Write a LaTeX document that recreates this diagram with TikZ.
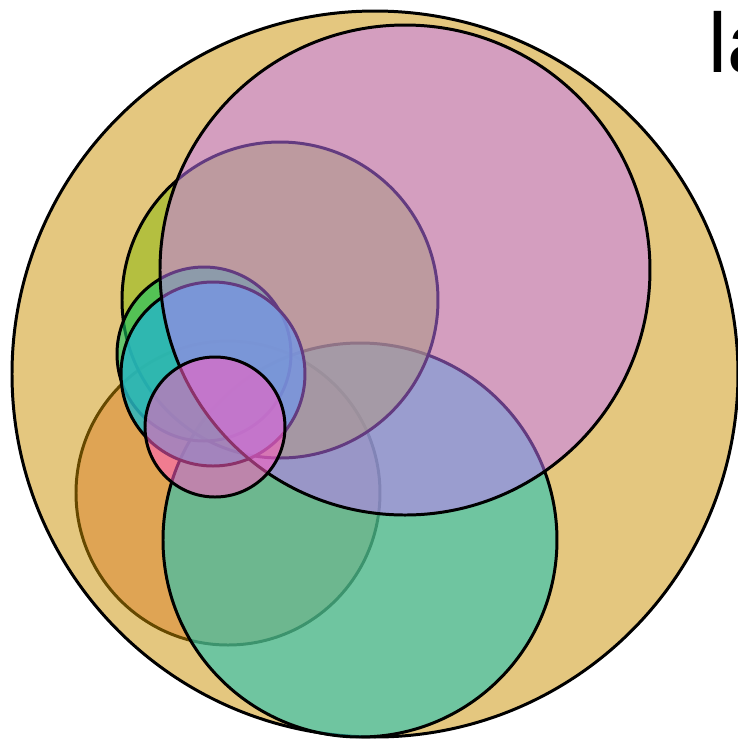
\documentclass[tikz,border=0pt]{standalone}
\usepackage{fontspec}
\setmainfont{Liberation Sans}
\usepackage{tikz}
\definecolor{outertan}{RGB}{203,145,0}
\definecolor{bigorange}{RGB}{235,115,85}
\definecolor{bigsea}{RGB}{34,197,183}
\definecolor{bigolive}{RGB}{149,187,23}
\definecolor{smallleaf}{RGB}{21,197,99}
\definecolor{smallsky}{RGB}{41,182,192}
\definecolor{bigorchid}{RGB}{198,118,255}
\definecolor{smallrose}{RGB}{255,92,194}

\begin{document}
\begin{tikzpicture}[x=0.01cm, y=-0.01cm,
    bub/.style={draw=black, line width=0.85pt},
    lbl/.style={anchor=base west, inner sep=0pt, font=\fontsize{24}{28}\selectfont}
  ]
  \useasboundingbox (0,0) rectangle (738,744);
  \fill[white] (0,0) rectangle (738,744);
  % back to front
  \draw[bub, fill=bigorange, fill opacity=0.5] (228,493) circle[radius=152];
  \draw[bub, fill=outertan, fill opacity=0.5] (375,374) circle[radius=363];
  \draw[bub, fill=bigsea, fill opacity=0.6] (360,540) circle[radius=197];
  \draw[bub, fill=bigolive, fill opacity=0.6] (280,300) circle[radius=158];
  \draw[bub, fill=smallleaf, fill opacity=0.6] (204,354) circle[radius=87];
  \draw[bub, fill=smallsky, fill opacity=0.85] (213,374) circle[radius=92];
  \draw[bub, fill=bigorchid, fill opacity=0.5] (405,270) circle[radius=245];
  \draw[bub, fill=smallrose, fill opacity=0.55] (215,427) circle[radius=70];
  \node[lbl] (title) at (708,72) {la};
\end{tikzpicture}
\end{document}
